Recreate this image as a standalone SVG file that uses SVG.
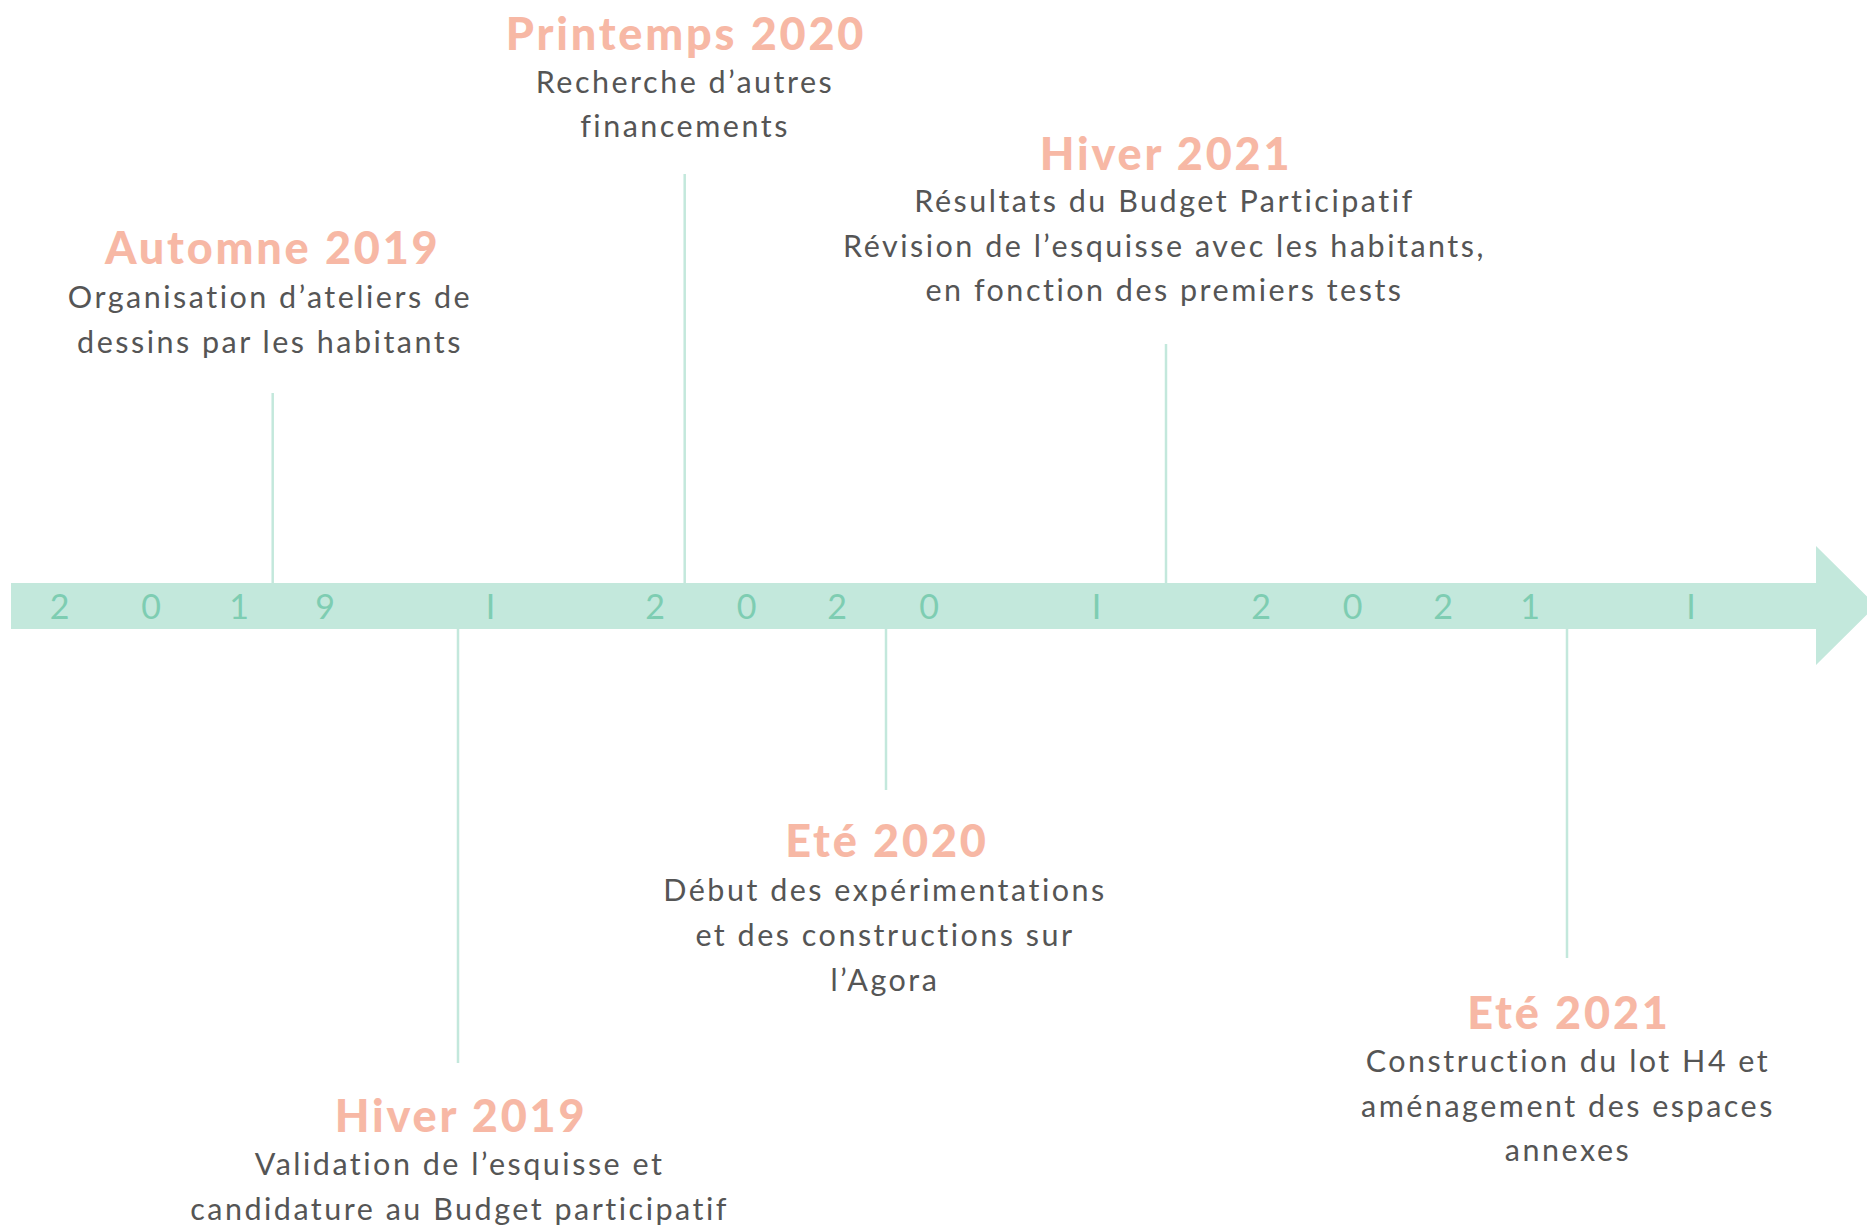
<svg xmlns="http://www.w3.org/2000/svg" width="1867" height="1228" viewBox="0 0 1867 1228">
<style>
.bar{fill:#c3e8dc}
.tick{font-family:Lato,"Open Sans",sans-serif;font-weight:400;font-size:34px;fill:#7ecdb2;text-anchor:middle}
.head{font-family:Lato,"Open Sans",sans-serif;font-weight:900;font-size:45px;fill:#f7b8a5;text-anchor:middle;letter-spacing:2.8px}
.body{font-family:Lato,"Open Sans",sans-serif;font-weight:400;font-size:30.5px;fill:#555555;text-anchor:middle;letter-spacing:2.5px}
.conn line{stroke:#c3e8dc;stroke-width:2.5}
</style>
<rect width="1867" height="1228" fill="#ffffff"/>
<g id="timeline">
<polygon class="bar" points="11,583 1816,583 1816,546 1876,605.5 1816,665 1816,629 11,629"/>
<text class="tick" x="59.5" y="619">2</text>
<text class="tick" x="151" y="619">0</text>
<text class="tick" x="239" y="619">1</text>
<text class="tick" x="325" y="619">9</text>
<text class="tick" x="490.5" y="619">I</text>
<text class="tick" x="655" y="619">2</text>
<text class="tick" x="746.5" y="619">0</text>
<text class="tick" x="837" y="619">2</text>
<text class="tick" x="929" y="619">0</text>
<text class="tick" x="1096.5" y="619">I</text>
<text class="tick" x="1261" y="619">2</text>
<text class="tick" x="1352.5" y="619">0</text>
<text class="tick" x="1443" y="619">2</text>
<text class="tick" x="1530" y="619">1</text>
<text class="tick" x="1691" y="619">I</text>
</g>
<g id="connectors" class="conn">
<line x1="272.7" y1="393" x2="272.7" y2="583"/>
<line x1="684.7" y1="174" x2="684.7" y2="583"/>
<line x1="1166" y1="344" x2="1166" y2="583"/>
<line x1="458" y1="629" x2="458" y2="1063"/>
<line x1="886" y1="629" x2="886" y2="790"/>
<line x1="1567" y1="629" x2="1567" y2="958"/>
</g>
<g id="automne2019">
<text class="head" x="272.7" y="264">Automne 2019</text>
<text class="body" x="270" y="308">Organisation d’ateliers de</text>
<text class="body" x="270" y="353">dessins par les habitants</text>
</g>
<g id="printemps2020">
<text class="head" x="686" y="50">Printemps 2020</text>
<text class="body" x="685" y="93">Recherche d’autres</text>
<text class="body" x="685" y="137">financements</text>
</g>
<g id="hiver2021">
<text class="head" x="1166" y="170">Hiver 2021</text>
<text class="body" x="1164.5" y="212">Résultats du Budget Participatif</text>
<text class="body" x="1164.5" y="257">Révision de l’esquisse avec les habitants,</text>
<text class="body" x="1164.5" y="301">en fonction des premiers tests</text>
</g>
<g id="hiver2019">
<text class="head" x="461" y="1132">Hiver 2019</text>
<text class="body" x="459.6" y="1175">Validation de l’esquisse et</text>
<text class="body" x="459.6" y="1220">candidature au Budget participatif</text>
</g>
<g id="ete2020">
<text class="head" x="887" y="857">Eté 2020</text>
<text class="body" x="885" y="901">Début des expérimentations</text>
<text class="body" x="885" y="946">et des constructions sur</text>
<text class="body" x="885" y="991">l’Agora</text>
</g>
<g id="ete2021">
<text class="head" x="1569" y="1029">Eté 2021</text>
<text class="body" x="1568" y="1072">Construction du lot H4 et</text>
<text class="body" x="1568" y="1117">aménagement des espaces</text>
<text class="body" x="1568" y="1161">annexes</text>
</g>
</svg>
